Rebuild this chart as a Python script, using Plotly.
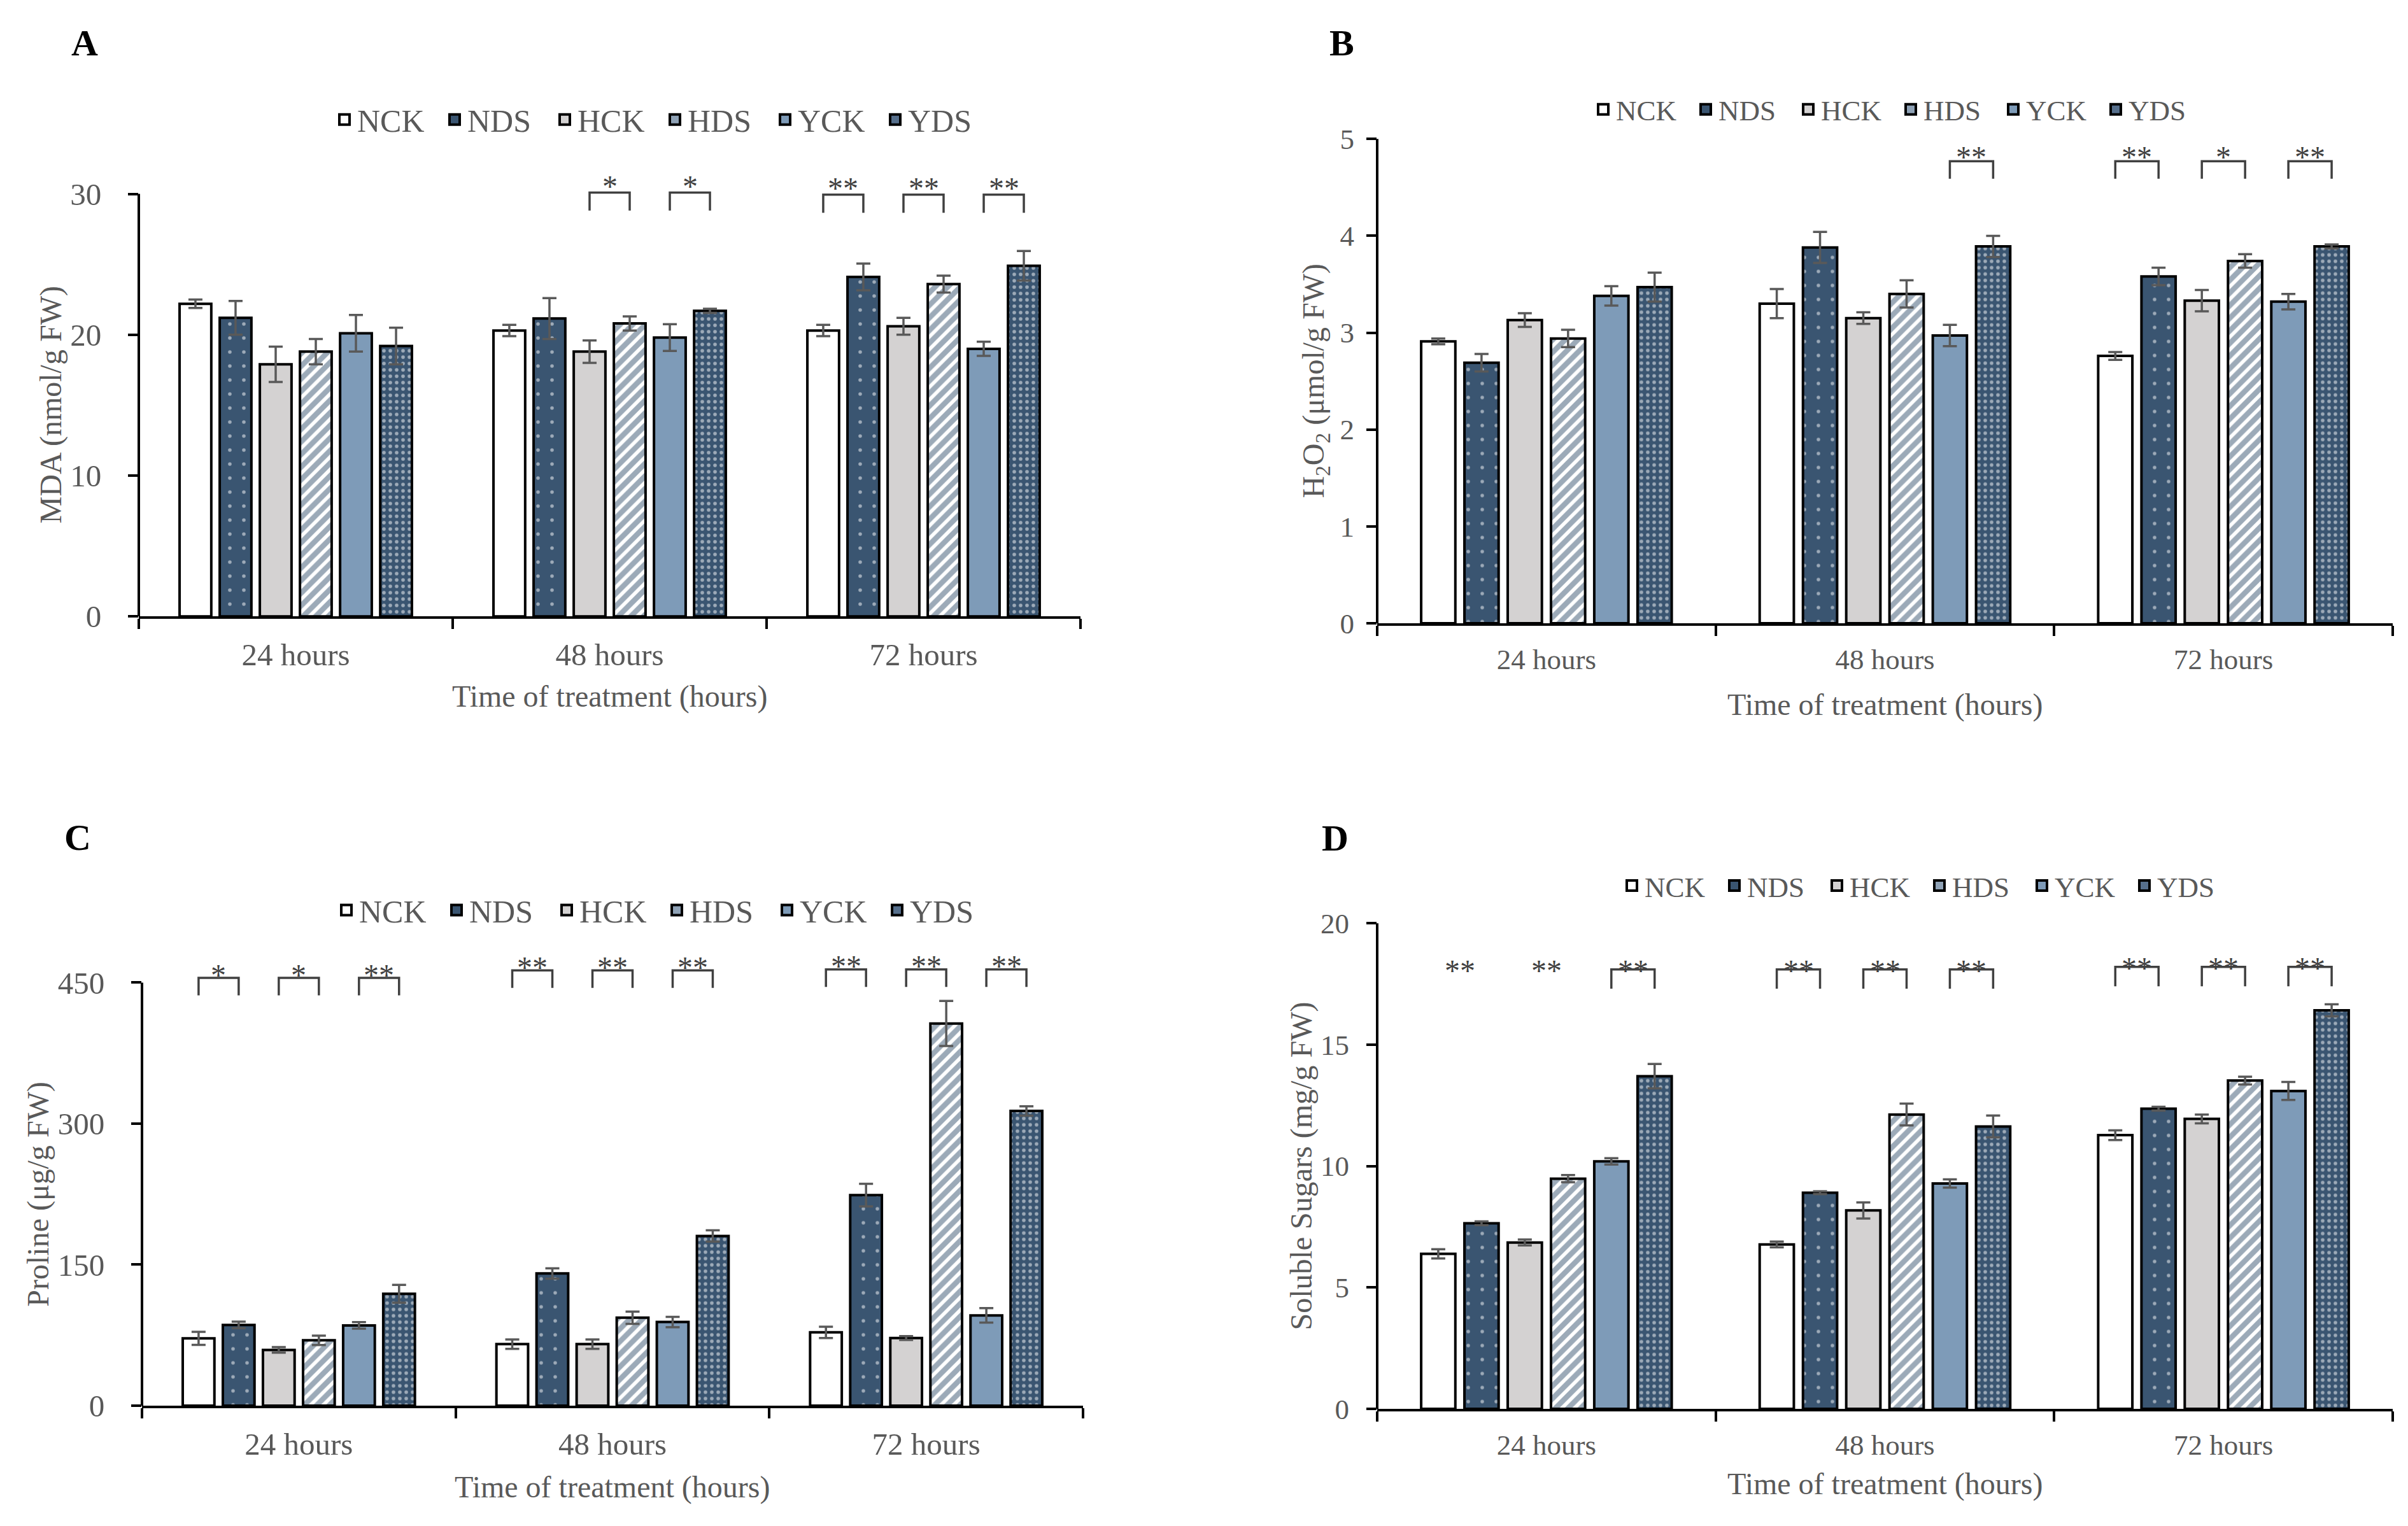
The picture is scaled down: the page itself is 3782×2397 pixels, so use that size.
import plotly.graph_objects as go

W, H = 3782, 2397
FONT = "Liberation Serif"
GRAY = "#595959"
STAR = "#404040"

# ---------------- data ----------------
times = ["24 hours", "48 hours", "72 hours"]
series = ["NCK", "NDS", "HCK", "HDS", "YCK", "YDS"]

# rows = series (NCK, NDS, HCK, HDS, YCK, YDS); columns = 24 h, 48 h, 72 h
mda_mean = [
    [22.2, 20.3, 20.3],
    [21.2, 21.15, 24.1],
    [17.9, 18.8, 20.6],
    [18.8, 20.8, 23.6],
    [20.1, 19.8, 19.0],
    [19.2, 21.7, 24.9],
]
mda_err = [
    [0.3, 0.4, 0.4],
    [1.2, 1.45, 0.95],
    [1.25, 0.8, 0.6],
    [0.9, 0.5, 0.6],
    [1.3, 0.95, 0.5],
    [1.3, 0.15, 1.05],
]

h2o2_mean = [
    [2.91, 3.30, 2.76],
    [2.69, 3.88, 3.58],
    [3.13, 3.15, 3.33],
    [2.94, 3.40, 3.74],
    [3.38, 2.97, 3.32],
    [3.47, 3.89, 3.89],
]
h2o2_err = [
    [0.03, 0.15, 0.04],
    [0.09, 0.16, 0.09],
    [0.07, 0.06, 0.11],
    [0.09, 0.14, 0.07],
    [0.10, 0.11, 0.08],
    [0.15, 0.11, 0.02],
]

proline_mean = [
    [71.6, 65.5, 78.0],
    [85.9, 140.6, 224.0],
    [59.3, 65.5, 72.0],
    [69.5, 93.6, 406.5],
    [85.4, 89.0, 96.0],
    [119.0, 180.5, 313.5],
]
proline_err = [
    [7.0, 5.0, 6.0],
    [3.5, 5.5, 12.0],
    [3.0, 5.0, 2.0],
    [5.0, 6.5, 24.0],
    [3.5, 5.5, 7.7],
    [9.5, 6.0, 5.0],
]

sugar_mean = [
    [6.38, 6.77, 11.27],
    [7.64, 8.90, 12.36],
    [6.85, 8.17, 11.94],
    [9.48, 12.12, 13.52],
    [10.19, 9.28, 13.09],
    [13.70, 11.63, 16.41],
]
sugar_err = [
    [0.19, 0.12, 0.20],
    [0.08, 0.06, 0.08],
    [0.12, 0.33, 0.18],
    [0.15, 0.45, 0.16],
    [0.13, 0.17, 0.37],
    [0.50, 0.45, 0.25],
]

# significance: (time index, first bar of pair, label, bracket drawn)
mda_sig = [(1, 2, "*", True), (1, 4, "*", True),
           (2, 0, "**", True), (2, 2, "**", True), (2, 4, "**", True)]
h2o2_sig = [(1, 4, "**", True), (2, 0, "**", True), (2, 2, "*", True), (2, 4, "**", True)]
proline_sig = [(0, 0, "*", True), (0, 2, "*", True), (0, 4, "**", True),
               (1, 0, "**", True), (1, 2, "**", True), (1, 4, "**", True),
               (2, 0, "**", True), (2, 2, "**", True), (2, 4, "**", True)]
sugar_sig = [(0, 0, "**", False), (0, 2, "**", False), (0, 4, "**", True),
             (1, 0, "**", True), (1, 2, "**", True), (1, 4, "**", True),
             (2, 0, "**", True), (2, 2, "**", True), (2, 4, "**", True)]

# bracket top level per time group (data units)
mda_levels = [30.1, 30.1, 29.95]
h2o2_levels = [4.77, 4.77, 4.77]
proline_levels = [455, 463, 464]
sugar_levels = [18.1, 18.1, 18.2]

# ---------------- styles ----------------
DARK = "#3A5571"
MID = "#7E9BB8"
LIGHT = "#D4D2D2"
styles = {
    "NCK": dict(color="white", legend="white"),
    "NDS": dict(color=DARK, legend=DARK,
                pattern=dict(shape=".", bgcolor=DARK, fgcolor="white", size=22, solidity=0.05)),
    "HCK": dict(color=LIGHT, legend=LIGHT),
    "HDS": dict(color="white", legend="#8FA2B6",
                pattern=dict(shape="/", bgcolor="white", fgcolor=DARK, size=14, solidity=0.6)),
    "YCK": dict(color=MID, legend=MID),
    "YDS": dict(color=DARK, legend="#566F8C",
                pattern=dict(shape=".", bgcolor=DARK, fgcolor="white", size=10, solidity=0.25)),
}

BARGAP = 0.233
GROUPGAP = 0.21


def bar_center(i):
    slot = (1 - BARGAP) / len(series)
    return -(1 - BARGAP) / 2 + (i + 0.5) * slot


panels = [
    dict(letter="A", mean=mda_mean, err=mda_err, sig=mda_sig, levels=mda_levels,
         leg_px=29, star_px=10, ymax=30, dtick=10, ytop=32.2,
         ytitle="MDA (nmol/g FW)",
         x_px=(218, 1697), y0_px=970, ymax_px=294, ytitle_x=80,
         letter_xy=(133, 52), legend_xy=(1040, 175), fs=49, lfs=50, tfs=48,
         ystand=32, leg_w=128, xtitle_y=1098),
    dict(letter="B", mean=h2o2_mean, err=h2o2_err, sig=h2o2_sig, levels=h2o2_levels,
         leg_px=28, star_px=7, ymax=5, dtick=1, ytop=5.15,
         ytitle="H<sub>2</sub>O<sub>2</sub> (μmol/g FW)",
         x_px=(2163, 3758), y0_px=981, ymax_px=206, ytitle_x=2066,
         letter_xy=(2107, 52), legend_xy=(2981, 159), fs=45, lfs=45, tfs=48,
         ystand=10, leg_w=116, xtitle_y=1111),
    dict(letter="C", mean=proline_mean, err=proline_err, sig=proline_sig, levels=proline_levels,
         leg_px=28, star_px=5, ymax=450, dtick=150, ytop=485,
         ytitle="Proline (μg/g FW)",
         x_px=(223, 1701), y0_px=2233, ymax_px=1556, ytitle_x=60,
         letter_xy=(122, 1324), legend_xy=(1043, 1440), fs=49, lfs=50, tfs=48,
         ystand=32, leg_w=128, xtitle_y=2363),
    dict(letter="D", mean=sugar_mean, err=sugar_err, sig=sugar_sig, levels=sugar_levels,
         leg_px=31, star_px=-2, ymax=20, dtick=5, ytop=20.2,
         ytitle="Soluble Sugars (mg/g FW)",
         x_px=(2163, 3758), y0_px=2238, ymax_px=1461, ytitle_x=2044,
         letter_xy=(2097, 1325), legend_xy=(3026, 1401), fs=45, lfs=45, tfs=48,
         ystand=18, leg_w=116, xtitle_y=2358),
]

fig = go.Figure()
layout = {}
shapes = []
annotations = []

for k, p in enumerate(panels):
    s = "" if k == 0 else str(k + 1)
    lg = "legend" + s
    for i, name in enumerate(series):
        st = styles[name]
        marker = dict(color=st["color"], line=dict(color="black", width=4))
        if "pattern" in st:
            marker["pattern"] = st["pattern"]
        fig.add_trace(go.Bar(
            x=list(range(len(times))), y=p["mean"][i], name=name,
            marker=marker,
            error_y=dict(type="data", array=p["err"][i], color=GRAY,
                         thickness=3.5, width=11),
            xaxis="x" + s, yaxis="y" + s, showlegend=False,
        ))
    # legend entries (square swatches)
    for i, name in enumerate(series):
        fig.add_trace(go.Scatter(
            x=[None], y=[None], mode="markers", name=name,
            marker=dict(symbol="square", size=16, color=styles[name]["legend"],
                        line=dict(color="black", width=4)),
            xaxis="x" + s, yaxis="y" + s, legend=lg, showlegend=True,
        ))

    ppu = (p["y0_px"] - p["ymax_px"]) / p["ymax"]
    top_px = p["y0_px"] - p["ytop"] * ppu
    ydom = [1 - p["y0_px"] / H, 1 - top_px / H]
    xdom = [p["x_px"][0] / W, p["x_px"][1] / W]
    yt = [v * p["dtick"] for v in range(int(round(p["ymax"] / p["dtick"])) + 1)]

    layout["xaxis" + s] = dict(
        domain=xdom, anchor="y" + s, range=[-0.5, len(times) - 0.5],
        tickmode="array", tickvals=list(range(len(times))), ticktext=times,
        ticks="", showline=True, linecolor="black", linewidth=4,
        showgrid=False, zeroline=False,
        tickfont=dict(family=FONT, size=p["fs"], color=GRAY),
        ticklabelstandoff=14,
        minor=dict(tickmode="array", tickvals=[g - 0.5 for g in range(len(times) + 1)],
                   ticks="outside", ticklen=16, tickwidth=4, tickcolor="black",
                   showgrid=False),
        fixedrange=True,
    )
    layout["yaxis" + s] = dict(
        domain=ydom, anchor="x" + s, range=[0, p["ytop"]],
        tickmode="array", tickvals=yt, ticks="outside", ticklen=16, tickwidth=4,
        tickcolor="black", showline=False, showgrid=False, zeroline=False,
        tickfont=dict(family=FONT, size=p["fs"], color=GRAY),
        ticklabelstandoff=p["ystand"], fixedrange=True,
    )
    layout[lg] = dict(
        x=p["legend_xy"][0] / W, y=1 - p["legend_xy"][1] / H,
        xanchor="center", yanchor="middle", orientation="h",
        font=dict(family=FONT, size=p["lfs"], color=GRAY),
        bgcolor="rgba(0,0,0,0)", entrywidth=p["leg_w"], entrywidthmode="pixels",
        itemwidth=30, traceorder="normal",
    )

    # y axis line only up to the last tick
    shapes.append(dict(type="line", xref="x" + s + " domain", yref="y" + s,
                       x0=0, x1=0, y0=0, y1=p["ymax"],
                       line=dict(color="black", width=4)))

    # significance brackets and stars
    leg = p["leg_px"] / ppu
    soff = p["star_px"] / ppu
    for (g, i, lab, br) in p["sig"]:
        xa = g + bar_center(i)
        xb = g + bar_center(i + 1)
        lvl = p["levels"][g]
        if br:
            shapes.append(dict(
                type="path", xref="x" + s, yref="y" + s,
                path=f"M {xa},{lvl - leg} L {xa},{lvl} L {xb},{lvl} L {xb},{lvl - leg}",
                line=dict(color=STAR, width=3.5)))
        annotations.append(dict(
            xref="x" + s, yref="y" + s, x=(xa + xb) / 2, y=lvl + soff,
            text=lab, showarrow=False, xanchor="center", yanchor="middle",
            font=dict(family=FONT, size=48, color=STAR)))

    # panel letter
    annotations.append(dict(
        xref="paper", yref="paper", x=p["letter_xy"][0] / W, y=1 - p["letter_xy"][1] / H,
        text="<b>" + p["letter"] + "</b>", showarrow=False,
        xanchor="center", yanchor="middle",
        font=dict(family=FONT, size=58, color="black")))
    # y title
    annotations.append(dict(
        xref="paper", yref="paper", x=p["ytitle_x"] / W,
        y=1 - (p["y0_px"] + p["ymax_px"]) / 2 / H,
        text=p["ytitle"], textangle=-90, showarrow=False,
        xanchor="center", yanchor="middle",
        font=dict(family=FONT, size=p["tfs"], color=GRAY)))
    # x title
    annotations.append(dict(
        xref="paper", yref="paper", x=(xdom[0] + xdom[1]) / 2,
        y=1 - p["xtitle_y"] / H,
        text="Time of treatment (hours)", showarrow=False,
        xanchor="center", yanchor="middle",
        font=dict(family=FONT, size=p["tfs"], color=GRAY)))

fig.update_layout(
    width=W, height=H,
    margin=dict(l=0, r=0, t=0, b=0),
    paper_bgcolor="white", plot_bgcolor="white",
    barmode="group", bargap=BARGAP, bargroupgap=GROUPGAP,
    shapes=shapes, annotations=annotations,
    font=dict(family=FONT, color=GRAY),
    hovermode=False,
    **layout,
)

fig.write_html("out.html", config={"displayModeBar": False},
               post_script="document.body.style.margin='0';document.body.style.overflow='hidden';")
